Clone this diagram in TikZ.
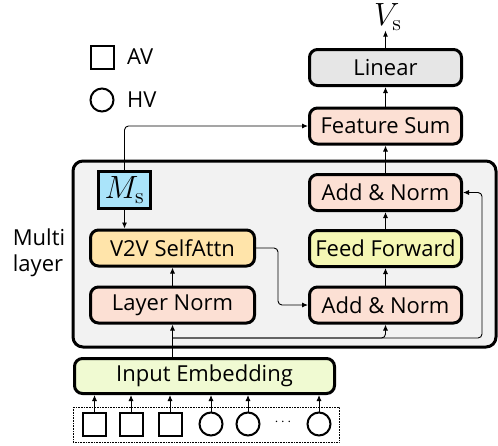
\documentclass[tikz,border=0pt]{standalone}
\usepackage[no-math]{fontspec}
\setmainfont{Open Sans}
\usetikzlibrary{arrows.meta}
\usetikzlibrary{calc}

\definecolor{cgray}{RGB}{230,230,230}
\definecolor{cpink}{RGB}{252,224,212}
\definecolor{corange}{RGB}{255,228,170}
\definecolor{cyellow}{RGB}{245,247,180}
\definecolor{cgreen}{RGB}{240,250,210}
\definecolor{cblue}{RGB}{170,228,250}
\definecolor{cback}{RGB}{242,242,242}

\begin{document}
\begin{tikzpicture}[x=1pt, y=-1pt,
  every node/.style={font=\fontsize{22}{26}\selectfont, inner sep=0pt},
  block/.style={draw, line width=3pt, rounded corners=8pt, minimum width=152pt, minimum height=36pt},
  tok/.style={draw, line width=2pt, minimum size=23pt},
  arr/.style={line width=0.9pt, -{Latex[length=6pt, width=5pt]}}]
\useasboundingbox (0,0) rectangle (498,445);

% multi layer background
\draw[line width=3pt, rounded corners=10pt, fill=cback] (73,161) rectangle (496,347);
\node[align=left] (multi) at (39,253) {Multi\\layer};

% legend
\node[tok] (lsq) at (102,57) {};
\node[anchor=west] (lav) at (127,57) {AV};
\node[tok, circle] (lci) at (102,100) {};
\node[anchor=west] (lhv) at (127,100) {HV};

% right column
\node[block, fill=cgray] (lin) at (385.5,67.5) {Linear};
\node[block, fill=cpink] (fsum) at (385.5,126) {Feature Sum};
\node[block, fill=cpink] (an2) at (385.5,192.5) {Add \& Norm};
\node[block, fill=cyellow] (ff) at (385.5,248.5) {Feed Forward};
\node[block, fill=cpink] (an1) at (385.5,305) {Add \& Norm};
\node (vs) at (388,17) {\scalebox{1.55}{$V_{\mathrm{s}}$}};

% left column
\node[draw, line width=3pt, fill=cblue, minimum width=52pt, minimum height=37pt] (ms) at (124.5,190) {\scalebox{1.55}{$M_{\mathrm{s}}$}};
\node[block, fill=corange, minimum width=164pt] (attn) at (172.5,248) {V2V SelfAttn};
\node[block, fill=cpink, minimum width=164pt] (ln) at (172.5,305) {Layer Norm};
\node[block, fill=cgreen, minimum width=260pt, minimum height=35pt] (emb) at (204.5,376) {Input Embedding};

% tokens
\draw[line width=0.6pt, densely dotted] (73,407) rectangle (339,442);
\node[tok] (t1) at (94.5,424) {};
\node[tok] (t2) at (131,424) {};
\node[tok] (t3) at (170,424) {};
\node[tok, circle] (t4) at (211,424) {};
\node[tok, circle] (t5) at (248,424) {};
\node (tdots) at (283,422) {\fontsize{14}{16}\selectfont$\cdots$};
\node[tok, circle] (t6) at (319,424) {};

\foreach \t in {t1,t2,t3,t4,t5,t6}
  \draw[arr] (\t.north) -- (\t.north |- emb.south);

% connectors
\coordinate (split) at (172.5,338);
\coordinate (rr) at (482,338);
\draw[arr] (emb.north -| ln.south) -- (ln.south);
\draw[arr, rounded corners=4pt] (split) -| (an1.south);
\draw[arr, rounded corners=4pt] (split) -- (rr) |- (an2.east);
\draw[arr] (ln) -- (attn);
\draw[arr] (ms.south) -- (ms.south |- attn.north);
\draw[arr, rounded corners=4pt] (ms.north) |- (fsum.west);
\draw[arr, rounded corners=4pt] (attn.east) -- ++(22,0) |- (an1.west);
\draw[arr] (an1) -- (ff);
\draw[arr] (ff) -- (an2);
\draw[arr] (an2) -- (fsum);
\draw[arr] (fsum) -- (lin);
\draw[arr] (lin.north) -- (lin.north |- vs.south);
\end{tikzpicture}
\end{document}
